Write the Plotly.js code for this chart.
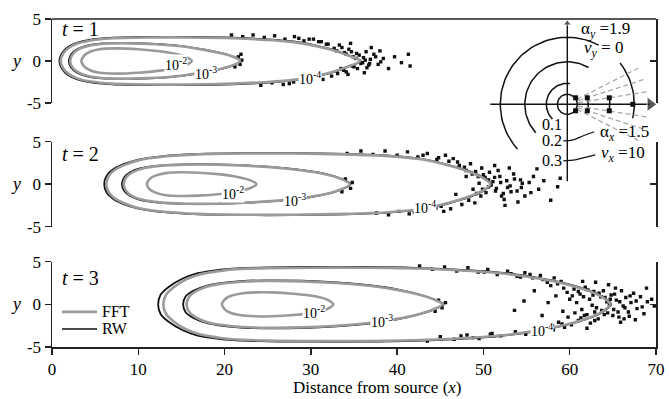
<!DOCTYPE html>
<html><head><meta charset="utf-8">
<script src="https://cdn.plot.ly/plotly-3.0.1.min.js"></script>
<style>html,body{margin:0;padding:0;background:#fff}#chart{width:669px;height:399px}</style>
</head><body><div id="chart"></div>
<script>
// ---------------- data ----------------
const xTicks = [0,10,20,30,40,50,60,70];
const yTicks = [-5,0,5];
const yTickText = ['-5','0','5'];
const panelLabels = ['<i>t</i> = 1','<i>t</i> = 2','<i>t</i> = 3'];
const levelLabels = ['10<sup>-2</sup>','10<sup>-3</sup>','10<sup>-4</sup>'];
const legendNames = ['FFT','RW'];

// FFT contours, upper half (symmetric about y = 0), left tip -> right tip
const fft1_2x = [3.4,3.7,4.4,5.5,7.5,10,12.5,14.5,15.6,16.2];
const fft1_2y = [0,0.6,1.1,1.4,1.5,1.4,1.15,0.8,0.45,0];
const fft1_3x = [2.1,2.4,3.1,4.2,6,9,12,15,17.5,19.5,21,21.8];
const fft1_3y = [0,0.8,1.4,1.8,2.05,2.1,2.0,1.75,1.35,0.95,0.5,0];
const fft1_4x = [1.0,1.3,2.0,3.0,4.5,7,11,16,21,25,28,30.5,32.5,34.2,35.7];
const fft1_4y = [0,0.9,1.6,2.1,2.45,2.7,2.8,2.8,2.7,2.5,2.25,1.8,1.3,0.7,0];

const fft2_2x = [11.0,11.3,12.0,13.2,15,17,19.5,21.5,23,23.7];
const fft2_2y = [0,0.6,1.0,1.3,1.4,1.35,1.15,0.85,0.45,0];
const fft2_3x = [8.3,8.6,9.3,10.5,12.5,15.5,19,23,27,30.5,33,34.5];
const fft2_3y = [0,0.8,1.4,1.85,2.15,2.3,2.3,2.15,1.85,1.4,0.8,0];
const fft2_4x = [6.3,6.6,7.3,8.5,10,13,17,22,28,34,39,43,46,48.5,50,50.8];
const fft2_4y = [0,1.0,1.7,2.3,2.8,3.25,3.5,3.6,3.6,3.5,3.3,2.9,2.2,1.4,0.7,0];

const fft3_2x = [19.7,20.0,20.6,21.8,23.5,25.5,28,30.5,32,32.6];
const fft3_2y = [0,0.55,0.95,1.25,1.4,1.4,1.25,0.95,0.5,0];
const fft3_3x = [15.6,15.9,16.8,18,19.5,22,25,29,33,37,40,42.5,44.3,45.3];
const fft3_3y = [0,0.9,1.6,2.1,2.4,2.65,2.75,2.7,2.5,2.15,1.7,1.15,0.55,0];
const fft3_4x = [12.9,13.2,14.1,15.5,17.1,19,21,25,30,36,42,47,52,56,59.5,62,63.7,64.7];
const fft3_4y = [0,1.1,2.0,2.9,3.5,3.85,4.1,4.25,4.3,4.3,4.2,4.0,3.65,3.1,2.4,1.65,0.9,0];

// RW (random walk) contours, upper half
const rw1_3x = [1.95,2.25,2.95,4.05,5.9,9,12,15,17.5,19.5,21,21.9];
const rw1_3y = [0,0.83,1.43,1.83,2.08,2.13,2.03,1.78,1.38,0.98,0.53,0];
const rw1_4x = [0.85,1.15,1.85,2.85,4.35,7,11,16,21,25,28,30.5,32.5,34.2,35.8];
const rw1_4y = [0,0.93,1.66,2.16,2.51,2.77,2.87,2.87,2.77,2.57,2.32,1.87,1.37,0.73,0];
const rw2_3x = [8.1,8.4,9.1,10.3,12.4,15.5,19,23,27,30.5,33,34.6];
const rw2_3y = [0,0.83,1.43,1.88,2.18,2.33,2.33,2.18,1.88,1.43,0.83,0];
const rw2_4x = [6.05,6.35,7.1,8.3,9.9,12.9,17,22,28,34,39,43,46,48.6,50.1,50.9];
const rw2_4y = [0,1.03,1.75,2.35,2.85,3.3,3.55,3.65,3.65,3.55,3.35,2.95,2.25,1.45,0.72,0];
const rw3_3x = [15.2,15.5,16.5,17.8,19.3,21.9,25,29,33,37,40,42.5,44.3,45.4];
const rw3_3y = [0,0.95,1.65,2.15,2.45,2.72,2.82,2.77,2.57,2.22,1.77,1.18,0.58,0];
const rw3_4x = [12.3,12.6,13.6,15.1,16.7,18.7,20.9,25,30,36,42,47,52,56,59.5,62,63.8,64.8];
const rw3_4y = [0,1.15,2.1,3.0,3.6,3.95,4.18,4.33,4.38,4.38,4.28,4.06,3.71,3.16,2.45,1.7,0.92,0];

// RW particles
const rwPts1x = [32.0,32.7,33.3,33.9,34.4,34.9,35.3,35.8,36.1,36.5,36.9,37.3,37.8,38.4,39.0,39.7,40.5,41.3,41.5,32.4,33.1,33.8,34.3,35.0,31.4,30.6,29.3,28.0,26.8,25.5,24.2,31.2,30.3,29.2,28.1,27.0,25.8,24.6,23.3,22.1,20.8,21.6,22.0,21.8,21.2,21.9,37.0,38.0,36.2,34.6,
  33.0,33.6,34.1,34.7,35.2,35.6,36.3,36.8,37.5,38.1,33.5,34.1,34.8,35.4,36.0,36.7,31.8,30.9,29.8,28.6,30.1,28.8,27.5,36.4];
const rwPts1y = [2.0,1.5,1.9,1.0,1.4,0.5,0.9,-0.3,0.4,-0.8,0.2,0.8,-0.4,0.3,-0.9,0.5,-0.2,0.8,-0.6,-1.8,-1.5,-1.1,-1.6,-0.7,-2.2,-2.4,-2.6,-2.5,-2.8,-2.6,-2.9,2.3,2.6,2.4,2.9,2.6,3.0,2.8,3.1,2.9,3.1,0.5,0.1,-0.4,-0.7,0.8,1.6,1.2,-1.4,2.1,
  1.2,1.6,0.8,1.1,0.3,0.7,0.1,-0.3,0.5,-0.1,-0.9,-1.3,-0.6,-0.9,-0.2,-0.5,2.0,2.3,2.6,2.7,-2.1,-2.4,-2.7,1.1];
const rwPts2x = [47.0,47.8,48.5,49.1,49.8,50.2,50.7,51.1,51.5,51.9,52.3,52.7,53.1,53.5,53.9,54.3,54.8,55.3,55.8,56.4,57.0,57.8,58.6,58.9,47.5,48.3,49.0,49.7,50.3,46.2,45.4,44.5,43.6,42.5,41.4,40.2,39.0,37.6,46.5,45.6,44.6,43.5,42.4,41.2,40.0,38.6,37.2,35.8,34.2,49.5,48.8,48.0,46.8,53.0,54.0,56.2,34.0,34.8,34.6,33.6,51.3,52.5,
  48.0,48.7,49.4,50.0,50.6,51.3,52.0,52.8,53.6,54.5,49.2,49.9,50.6,51.4,52.1,53.2,54.4,55.5,47.2,46.0,44.8,43.0,45.1,43.8,42.0,50.9,51.7,52.4];
const rwPts2y = [2.6,2.0,2.4,1.5,1.9,0.8,1.4,0.3,-0.5,0.9,-1.1,0.4,-0.2,1.2,-0.8,0.5,-1.4,0.2,0.9,-0.6,0.4,-1.9,-0.3,0.7,-2.4,-1.9,-2.2,-1.4,-1.0,-2.9,-3.2,-2.8,-3.3,-3.0,-3.5,-3.2,-3.6,-3.4,3.0,3.4,2.9,3.6,3.2,3.8,3.4,3.9,3.5,3.9,3.6,0.1,-0.6,0.9,-1.2,1.9,-2.1,1.8,0.6,0.2,-0.5,-0.9,2.2,-2.5,
  1.6,1.2,0.9,1.1,0.5,0.8,0.2,-0.4,0.6,0.1,-1.1,-0.6,-0.3,-0.8,-1.4,-0.9,-0.4,-1.0,2.2,2.7,3.1,3.4,-2.6,-3.0,-3.3,-0.1,1.6,-1.8];
const rwPts3x = [60.5,61.2,61.8,62.3,62.8,63.1,63.6,64.0,64.3,64.8,65.1,65.4,65.7,66.0,66.2,66.5,66.8,67.1,67.4,67.8,68.2,68.6,69.0,69.5,69.8,61.0,61.7,62.4,62.9,63.3,60.2,59.4,58.7,58.1,57.2,56.5,55.8,59.0,58.2,57.4,56.6,55.7,54.8,53.9,52.8,51.6,50.5,49.4,48.2,46.9,45.5,44.1,42.6,52.0,50.8,49.5,48.1,46.6,45.0,43.5,60.0,59.2,58.4,57.5,56.8,55.9,54.7,53.6,64.5,63.0,65.9,67.6,68.9,61.5,62.0,44.8,45.6,45.2,44.4,60.8,62.6,64.6,63.9,65.3,66.9,61.4,59.7,
  60.3,61.0,61.6,62.1,62.7,63.4,64.1,64.7,65.2,65.8,66.4,67.0,67.7,68.4,59.8,60.6,61.3,62.0,62.9,63.7,64.4,65.0,65.6,66.3,57.8,58.6,59.3,56.9,58.0,59.1,53.2,54.3,55.4,51.0,48.8,47.4,53.7,54.9,56.1,50.1];
const rwPts3y = [1.8,1.2,2.0,0.6,1.5,-0.4,0.9,-1.2,0.3,1.1,-0.6,0.5,-1.5,1.6,-0.2,0.8,-0.9,0.2,1.3,-0.5,0.9,-1.1,0.3,0.6,-0.2,-1.9,-1.3,-2.2,-0.9,-1.7,-2.4,-2.7,-2.1,-3.0,-2.8,-3.3,-3.0,2.7,3.1,2.6,3.4,3.1,3.7,3.3,3.9,3.5,4.1,3.8,4.3,3.9,4.4,4.1,4.5,-3.7,-3.5,-4.0,-3.6,-4.1,-3.8,-4.3,0.6,-0.8,1.0,0.2,-1.3,1.6,0.4,-0.7,2.3,2.6,-2.1,-1.8,1.9,2.7,-2.8,0.5,0.2,-0.4,-0.8,0.2,-0.1,-0.1,1.6,1.9,-1.4,-0.6,1.4,
  1.0,1.5,0.9,1.7,1.1,1.3,0.8,0.6,1.2,0.3,-0.4,1.0,0.4,-0.3,-1.5,-1.0,-1.6,-1.2,-1.9,-0.7,-1.0,-1.3,-0.9,-1.7,2.2,2.4,1.9,2.9,-2.5,-2.3,3.6,3.2,3.5,-3.4,-3.9,-3.7,-3.2,-3.5,-2.6,3.8];

// contour label positions per panel, levels 1e-2, 1e-3, 1e-4
const lab1x = [14.4,17.9,29.9], lab1y = [-0.4,-1.45,-2.0];
const lab2x = [21.0,28.2,43.2], lab2y = [-1.1,-1.9,-2.7];
const lab3x = [30.4,38.2,56.8], lab3y = [-0.9,-2.0,-3.0];

// inset (units = pixels around origin)
const arcR  = [10, 21, 21, 42.5, 42.5, 67, 67];
const arcA0 = [0, 83, -18, 60, -9, 62, -12];
const arcA1 = [360, 225, 18, 222, 9, 222, 38];
const rayA = [9, 18, 27, -9, -18, -27];
const rayR0 = 11, rayR1 = 80;
const insetDotX = [8.3, 8.3, 20, 20, 42, 42, 65.5];
const insetDotY = [6.5, -6.5, 6.5, -6.5, 6.5, -6.5, 0];
const lead1X = [-4, 6, 16, 27], lead1Y = [-36.5, -35.5, -31.5, -27.5];
const lead2X = [-4, 8, 18, 28], lead2Y = [-56.5, -55.5, -53, -50.5];

// ---------------- build ----------------
const GRAY = '#9a9a9a', BLACK = '#111';
function loop(xs, ys){
  const X=[],Y=[];
  for(let i=0;i<xs.length;i++){X.push(xs[i]);Y.push(ys[i]);}
  for(let i=xs.length-2;i>=0;i--){X.push(xs[i]);Y.push(-ys[i]);}
  return {X,Y};
}
const traces = [];
const yax = ['y','y2','y3'];
const fft = [[[fft1_2x,fft1_2y],[fft1_3x,fft1_3y],[fft1_4x,fft1_4y]],
             [[fft2_2x,fft2_2y],[fft2_3x,fft2_3y],[fft2_4x,fft2_4y]],
             [[fft3_2x,fft3_2y],[fft3_3x,fft3_3y],[fft3_4x,fft3_4y]]];
const rw = [[[rw1_3x,rw1_3y],[rw1_4x,rw1_4y]],
            [[rw2_3x,rw2_3y],[rw2_4x,rw2_4y]],
            [[rw3_3x,rw3_3y],[rw3_4x,rw3_4y]]];
const pts = [[rwPts1x,rwPts1y],[rwPts2x,rwPts2y],[rwPts3x,rwPts3y]];
for(let p=0;p<3;p++){
  rw[p].forEach(c=>{
    const L=loop(c[0],c[1]);
    traces.push({type:'scatter',mode:'lines',x:L.X,y:L.Y,xaxis:'x',yaxis:yax[p],
      line:{color:BLACK,width:1.8,shape:'spline',smoothing:0.8},name:'RW',showlegend:false,hoverinfo:'skip'});
  });
  traces.push({type:'scatter',mode:'markers',x:pts[p][0],y:pts[p][1],xaxis:'x',yaxis:yax[p],name:'RW particles',
    marker:{color:BLACK,size:3.4,symbol:'square'},showlegend:false,hoverinfo:'skip'});
  fft[p].forEach(c=>{
    const L=loop(c[0],c[1]);
    traces.push({type:'scatter',mode:'lines',x:L.X,y:L.Y,xaxis:'x',yaxis:yax[p],
      line:{color:GRAY,width:2.6,shape:'spline',smoothing:0.8},name:'FFT',showlegend:false,hoverinfo:'skip'});
  });
}
// right-side axes anchors
['y4','y5','y6'].forEach(a=>traces.push({type:'scatter',x:[],y:[],xaxis:'x',yaxis:a,showlegend:false,hoverinfo:'skip'}));

// inset traces
for(let i=0;i<arcR.length;i++){
  const X=[],Y=[]; const n=Math.max(8,Math.round(Math.abs(arcA1[i]-arcA0[i])/3));
  for(let k=0;k<=n;k++){const a=(arcA0[i]+(arcA1[i]-arcA0[i])*k/n)*Math.PI/180;X.push(arcR[i]*Math.cos(a));Y.push(arcR[i]*Math.sin(a));}
  traces.push({type:'scatter',mode:'lines',x:X,y:Y,xaxis:'x2',yaxis:'y7',line:{color:BLACK,width:1.5},showlegend:false,hoverinfo:'skip'});
}
rayA.forEach(a=>{
  const r=a*Math.PI/180;
  traces.push({type:'scatter',mode:'lines',x:[rayR0*Math.cos(r),rayR1*Math.cos(r)],y:[rayR0*Math.sin(r),rayR1*Math.sin(r)],
    xaxis:'x2',yaxis:'y7',line:{color:'#a8a8a8',width:1.3,dash:'5px,3px'},showlegend:false,hoverinfo:'skip'});
});
traces.push({type:'scatter',mode:'lines',x:[-77,82],y:[0,0],xaxis:'x2',yaxis:'y7',line:{color:BLACK,width:1.4},showlegend:false,hoverinfo:'skip'});
traces.push({type:'scatter',mode:'lines',x:[0,0],y:[-77,80],xaxis:'x2',yaxis:'y7',line:{color:BLACK,width:1.4},showlegend:false,hoverinfo:'skip'});
traces.push({type:'scatter',mode:'markers',x:[83,0],y:[0,81],xaxis:'x2',yaxis:'y7',
  marker:{symbol:['triangle-right','triangle-up'],size:[13,7],color:BLACK},showlegend:false,hoverinfo:'skip'});
traces.push({type:'scatter',mode:'markers',x:insetDotX,y:insetDotY,xaxis:'x2',yaxis:'y7',
  marker:{symbol:'square',size:5,color:BLACK},showlegend:false,hoverinfo:'skip'});
[[lead1X,lead1Y],[lead2X,lead2Y]].forEach(l=>traces.push({type:'scatter',mode:'lines',x:l[0],y:l[1],xaxis:'x2',yaxis:'y7',
  line:{color:BLACK,width:1.2,shape:'spline'},showlegend:false,hoverinfo:'skip'}));

// ---------------- layout ----------------
const AX='#222';
function leftY(dom){return {domain:dom,range:[-5,5],anchor:'x',tickvals:yTicks,ticktext:yTickText,ticks:'outside',ticklen:6,tickwidth:1.5,tickcolor:AX,
  showline:true,linewidth:1.5,linecolor:AX,showgrid:false,zeroline:false,tickfont:{size:17,color:'#000'},fixedrange:true};}
function rightY(base){return {overlaying:base,side:'right',anchor:'x',range:[-5,5],tickvals:yTicks,ticks:'inside',ticklen:6,tickwidth:1.5,tickcolor:AX,
  showticklabels:false,showline:true,linewidth:1.5,linecolor:AX,showgrid:false,zeroline:false};}
const d1=[0.744,1], d2=[0.367,0.626], d3=[0,0.26];
const annotations=[];
const labs=[[lab1x,lab1y],[lab2x,lab2y],[lab3x,lab3y]];
for(let p=0;p<3;p++){
  annotations.push({xref:'x',yref:yax[p],x:0.9,y:[3.8,3.5,3.1][p],text:panelLabels[p],showarrow:false,xanchor:'left',font:{size:20,color:'#000'}});
  annotations.push({xref:'paper',yref:yax[p],x:-0.072,y:0,text:'<i>y</i>',showarrow:false,font:{size:18,color:'#000'}});
  for(let k=0;k<3;k++){
    annotations.push({xref:'x',yref:yax[p],x:labs[p][0][k],y:labs[p][1][k],text:levelLabels[k],showarrow:false,
      bgcolor:'white',borderpad:0,font:{size:14,color:'#000'}});
  }
}
annotations.push({xref:'x',yref:'paper',x:37.7,y:-0.124,yanchor:'middle',text:'Distance from source (<i>x</i>)',showarrow:false,font:{size:17,color:'#000'}});
// legend (drawn by hand in panel 3)
annotations.push({xref:'paper',yref:'paper',x:0.079,y:0.107,xanchor:'left',yanchor:'middle',text:legendNames[0],showarrow:false,font:{size:16,color:'#000'}});
annotations.push({xref:'paper',yref:'paper',x:0.079,y:0.055,xanchor:'left',yanchor:'middle',text:legendNames[1],showarrow:false,font:{size:16,color:'#000'}});
// inset labels
const insetLab=[['α<sub><i>y</i></sub> =1.9',38.7,74.8,17],['<i>v<sub>y</sub></i> = 0',36,55.8,17],['0.1',-14.8,-19.7,16],['0.2',-14.8,-35.7,16],['0.3',-14.8,-55.7,16],
  ['α<sub><i>x</i></sub> =1.5',57.7,-28.7,17],['<i>v<sub>x</sub></i> =10',56,-49.7,17]];
insetLab.forEach(l=>annotations.push({xref:'x2',yref:'y7',x:l[1],y:l[2],text:l[0],showarrow:false,font:{size:l[3],color:'#000'}}));

const layout={
  width:669,height:399,margin:{l:52,r:13,t:19,b:52},
  paper_bgcolor:'white',plot_bgcolor:'rgba(0,0,0,0)',hovermode:false,showlegend:false,
  font:{family:'"Liberation Serif","Times New Roman",serif',size:16,color:'#111'},
  xaxis:{domain:[0,1],range:[0,70],anchor:'y3',tickvals:xTicks,ticks:'outside',ticklen:6,tickwidth:1.5,tickcolor:AX,
    showline:true,linewidth:1.5,linecolor:AX,showgrid:false,zeroline:false,tickfont:{size:17,color:'#000'},fixedrange:true},
  yaxis:leftY(d1), yaxis2:leftY(d2), yaxis3:leftY(d3),
  yaxis4:rightY('y'), yaxis5:rightY('y2'), yaxis6:rightY('y3'),
  xaxis2:{domain:[0.7086,1],range:[-87.3,88.7],anchor:'y7',visible:false,fixedrange:true},
  yaxis7:{domain:[0.4817,1],range:[-84.7,85.3],anchor:'x2',visible:false,fixedrange:true},
  shapes:[
    {type:'line',xref:'paper',yref:'paper',x0:0,x1:1,y0:1,y1:1,line:{color:AX,width:1.5}},
    {type:'line',xref:'paper',yref:'paper',x0:0.0166,x1:0.0745,y0:0.107,y1:0.107,line:{color:GRAY,width:2.6}},
    {type:'line',xref:'paper',yref:'paper',x0:0.0166,x1:0.0745,y0:0.055,y1:0.055,line:{color:BLACK,width:1.6}}
  ],
  annotations:annotations
};
Plotly.newPlot('chart',traces,layout,{displayModeBar:false,staticPlot:true});
</script></body></html>
